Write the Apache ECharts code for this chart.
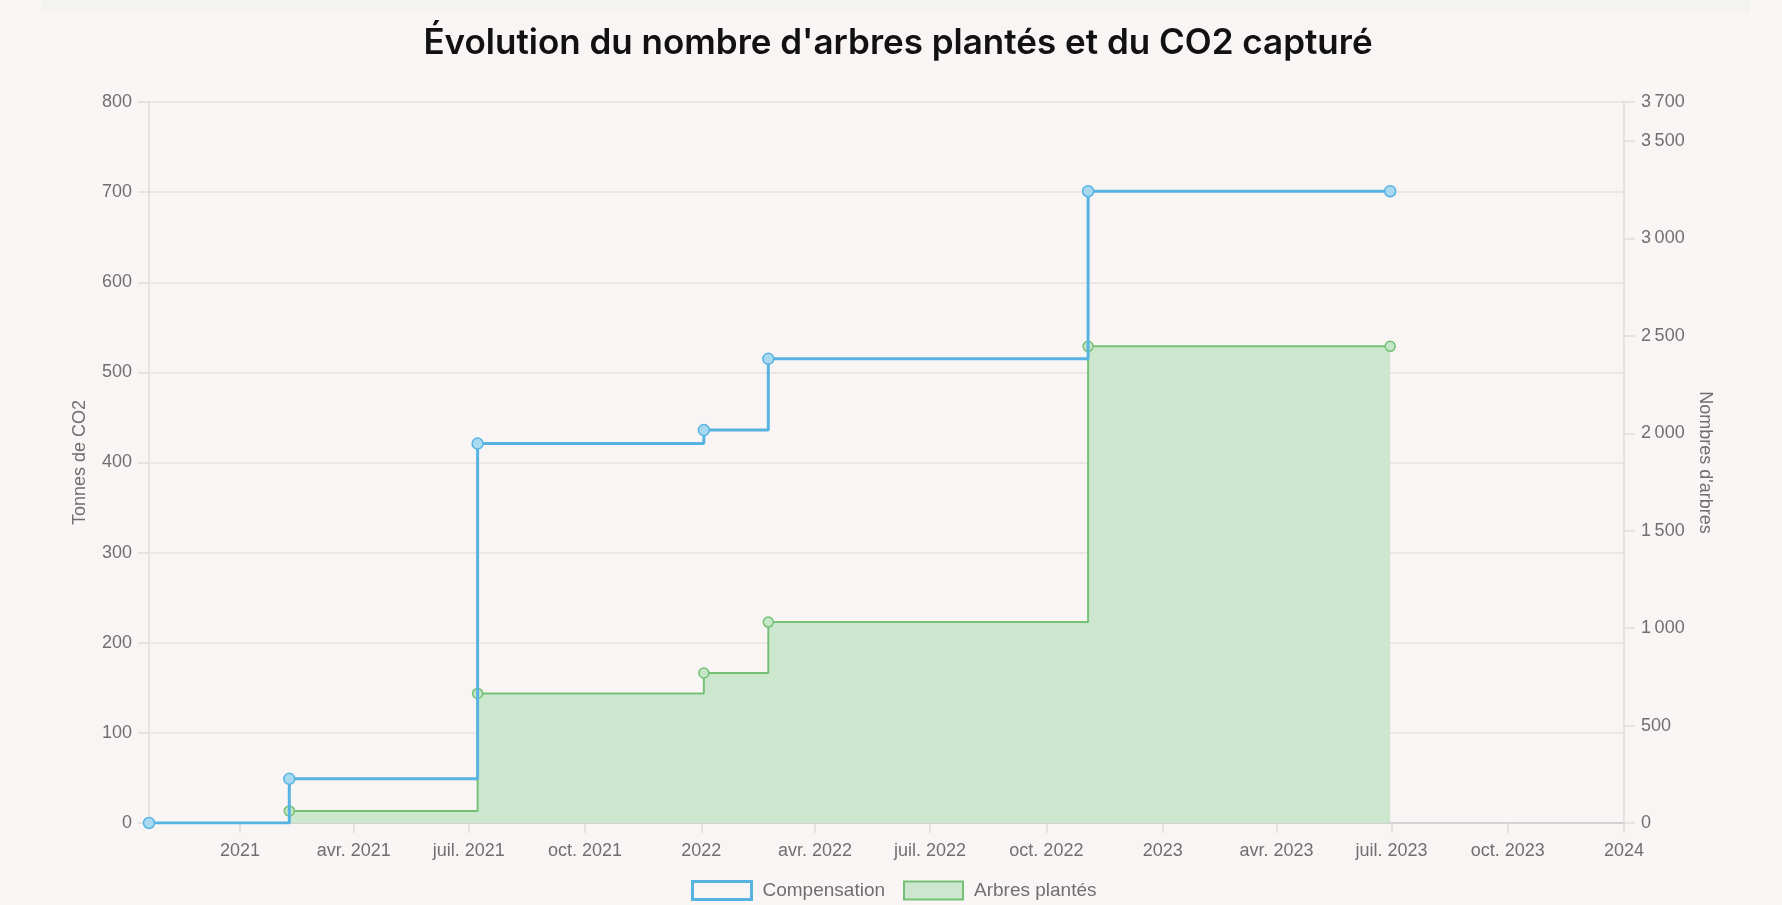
<!DOCTYPE html>
<html>
<head>
<meta charset="utf-8">
<script src="https://cdn.jsdelivr.net/npm/echarts@6/dist/echarts.min.js"></script>
<style>
  html, body { margin: 0; padding: 0; width: 1782px; height: 905px; overflow: hidden; background: #f8f7f3; }
  #panel { position: absolute; left: 41px; top: 0; width: 1709px; height: 905px; background: #f9f5f4; }
  #strip { position: absolute; left: 41px; top: 0; width: 1709px; height: 12px; background: #f3f3f2; }
  #chart { position: absolute; left: 0; top: 0; width: 1782px; height: 905px; }
</style>
</head>
<body>
<div id="panel"></div>
<div id="strip"></div>
<div id="chart"></div>
<script>
// ---- data ----
const compDates = ['2020-10-21', '2021-02-09', '2021-07-08', '2022-01-03', '2022-02-23', '2022-11-03', '2023-06-30'];
const compensation = [0, 49, 421, 436, 515, 701, 701];
const treeDates = ['2021-02-09', '2021-07-08', '2022-01-03', '2022-02-23', '2022-11-03', '2023-06-30'];
const trees = [62, 665, 770, 1031, 2446, 2446];
const xTickDates = ['2021-01-01', '2021-04-01', '2021-07-01', '2021-10-01', '2022-01-01', '2022-04-01', '2022-07-01', '2022-10-01', '2023-01-01', '2023-04-01', '2023-07-01', '2023-10-01', '2024-01-01'];
const xTickLabels = ['2021', 'avr. 2021', 'juil. 2021', 'oct. 2021', '2022', 'avr. 2022', 'juil. 2022', 'oct. 2022', '2023', 'avr. 2023', 'juil. 2023', 'oct. 2023', '2024'];
const seriesNames = ['Compensation', 'Arbres plantés'];
const axisNames = ['Tonnes de CO2', "Nombres d'arbres"];
const titleText = "Évolution du nombre d'arbres plantés et du CO2 capturé";

// ---- helpers ----
const ts = s => Date.UTC(+s.slice(0, 4), +s.slice(5, 7) - 1, +s.slice(8, 10));
const xTicks = xTickDates.map(ts);
const fmtNum = v => {
  const s = String(Math.round(v));
  return s.replace(/\B(?=(\d{3})+(?!\d))/g, '\u202f');
};

const labelFont = 'Liberation Sans, Arial, sans-serif';
const labelColor = '#6f6f6f';
const lineColor = '#dedcdb';
const blue = '#57b4e2';
const green = '#74c176';

const chart = echarts.init(document.getElementById('chart'), null, { renderer: 'canvas' });
chart.setOption({
  animation: false,
  backgroundColor: 'transparent',
  title: {
    text: titleText,
    left: 893,
    textAlign: 'center',
    top: 21,
    textStyle: { fontFamily: 'Inter, sans-serif', fontWeight: 600, fontSize: 35, color: '#111111' }
  },
  legend: {
    left: 686,
    top: 875,
    itemWidth: 59,
    itemHeight: 18,
    itemGap: 18,
    textStyle: { fontFamily: labelFont, fontSize: 19, color: labelColor, padding: [0, 0, 0, 6] },
    data: [
      { name: seriesNames[0], icon: 'rect', itemStyle: { color: '#f9f5f4', borderColor: blue, borderWidth: 3 } },
      { name: seriesNames[1], icon: 'rect', itemStyle: { color: '#cde7cf', borderColor: green, borderWidth: 2 } }
    ]
  },
  grid: { left: 149, right: 158, top: 102, bottom: 82, containLabel: false },
  xAxis: {
    type: 'value',
    min: ts(compDates[0]),
    max: xTicks[xTicks.length - 1],
    axisLine: { show: true, lineStyle: { color: '#d2d2d2', width: 2 } },
    axisTick: { show: true, length: 10, lineStyle: { color: lineColor, width: 1.5 }, customValues: xTicks },
    axisLabel: {
      customValues: xTicks,
      margin: 19,
      fontFamily: labelFont, fontSize: 18, color: labelColor,
      formatter: v => { const i = xTicks.indexOf(v); return i >= 0 ? xTickLabels[i] : ''; }
    },
    splitLine: { show: false }
  },
  yAxis: [
    {
      type: 'value',
      min: 0, max: 800, interval: 100,
      name: axisNames[0],
      nameLocation: 'middle',
      nameGap: 60,
      nameTextStyle: { fontFamily: labelFont, fontSize: 18, color: labelColor },
      axisLine: { show: true, lineStyle: { color: lineColor, width: 1.5 } },
      axisTick: { show: true, length: 11, lineStyle: { color: lineColor, width: 1.5 } },
      axisLabel: { margin: 17, fontFamily: labelFont, fontSize: 18, color: labelColor, formatter: fmtNum },
      splitLine: { show: true, lineStyle: { color: '#e4e2e1', width: 1.5 } }
    },
    {
      type: 'value',
      position: 'right',
      min: 0, max: 3700, interval: 500,
      name: axisNames[1],
      nameLocation: 'middle',
      nameRotate: -90,
      nameGap: 72,
      nameTextStyle: { fontFamily: labelFont, fontSize: 18, color: labelColor },
      axisLine: { show: true, lineStyle: { color: lineColor, width: 1.5 } },
      axisTick: { show: true, length: 11, lineStyle: { color: lineColor, width: 1.5 } },
      axisLabel: { margin: 17, fontFamily: labelFont, fontSize: 18, color: labelColor, formatter: fmtNum, showMaxLabel: true },
      splitLine: { show: false }
    }
  ],
  series: [
    {
      name: seriesNames[1],
      type: 'line',
      yAxisIndex: 1,
      step: 'end',
      z: 2,
      data: treeDates.map((d, i) => [ts(d), trees[i]]),
      showSymbol: true,
      showAllSymbol: true,
      symbol: 'circle',
      symbolSize: 10,
      lineStyle: { color: green, width: 2 },
      itemStyle: { color: '#c6e6c8', borderColor: green, borderWidth: 1.5 },
      areaStyle: { color: '#cde7cf', opacity: 1 }
    },
    {
      name: seriesNames[0],
      type: 'line',
      yAxisIndex: 0,
      step: 'end',
      z: 3,
      data: compDates.map((d, i) => [ts(d), compensation[i]]),
      showSymbol: true,
      showAllSymbol: true,
      symbol: 'circle',
      symbolSize: 11,
      lineStyle: { color: blue, width: 3 },
      itemStyle: { color: '#a9d9f1', borderColor: blue, borderWidth: 1.5 }
    }
  ]
});
</script>
</body>
</html>
